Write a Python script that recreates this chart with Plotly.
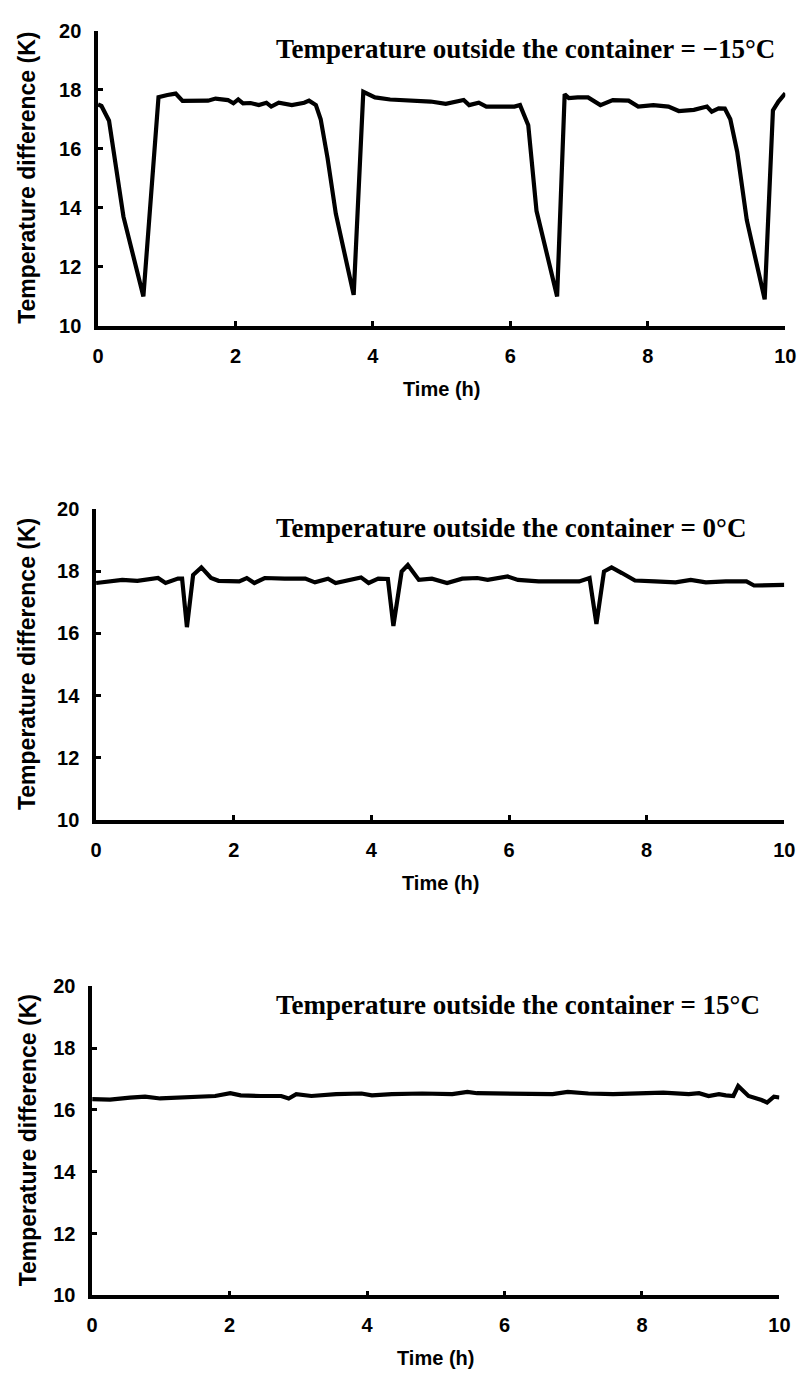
import plotly.graph_objects as go

# ---- data ----
t1 = [0.00, 0.05, 0.16, 0.27, 0.37, 0.66, 0.88, 1.01, 1.13, 1.23, 1.40, 1.60, 1.71, 1.89, 1.97, 2.04,
      2.11, 2.22, 2.34, 2.45, 2.52, 2.63, 2.82, 3.00, 3.07, 3.17, 3.24, 3.34, 3.46, 3.72, 3.86, 4.03,
      4.25, 4.55, 4.84, 5.06, 5.32, 5.40, 5.54, 5.65, 5.87, 6.06, 6.14, 6.26, 6.38, 6.68, 6.79, 6.85,
      6.98, 7.13, 7.31, 7.49, 7.72, 7.86, 8.08, 8.30, 8.45, 8.67, 8.86, 8.93, 9.03, 9.12, 9.20, 9.30,
      9.44, 9.70, 9.82, 9.90, 10.00]
dT1 = [17.50, 17.45, 16.95, 15.35, 13.70, 11.00, 17.75, 17.82, 17.87, 17.62, 17.63, 17.63, 17.70, 17.65,
       17.54, 17.67, 17.54, 17.55, 17.48, 17.56, 17.43, 17.56, 17.48, 17.56, 17.63, 17.48, 17.00, 15.68,
       13.80, 11.05, 17.93, 17.74, 17.67, 17.65, 17.60, 17.52, 17.65, 17.48, 17.56, 17.43, 17.42, 17.43,
       17.48, 16.80, 13.90, 11.00, 17.85, 17.72, 17.74, 17.74, 17.48, 17.65, 17.63, 17.43, 17.48, 17.43,
       17.28, 17.32, 17.43, 17.26, 17.37, 17.36, 17.00, 15.90, 13.58, 10.90, 17.30, 17.60, 17.88]

t2 = [0.00, 0.16, 0.38, 0.60, 0.90, 1.01, 1.19, 1.25, 1.32, 1.41, 1.53, 1.67, 1.78, 2.08, 2.19, 2.30,
      2.45, 2.74, 3.04, 3.18, 3.37, 3.48, 3.77, 3.85, 3.96, 4.10, 4.24, 4.32, 4.44, 4.53, 4.69, 4.88,
      5.10, 5.32, 5.54, 5.69, 5.98, 6.13, 6.43, 6.79, 7.02, 7.17, 7.27, 7.38, 7.49, 7.64, 7.83, 8.12,
      8.42, 8.64, 8.86, 9.15, 9.45, 9.56, 9.74, 10.00]
dT2 = [17.62, 17.67, 17.72, 17.69, 17.78, 17.62, 17.76, 17.76, 16.20, 17.88, 18.12, 17.78, 17.69, 17.67,
       17.78, 17.62, 17.78, 17.76, 17.76, 17.64, 17.76, 17.62, 17.78, 17.80, 17.62, 17.76, 17.75, 16.24,
       17.99, 18.20, 17.72, 17.76, 17.62, 17.76, 17.78, 17.72, 17.83, 17.72, 17.67, 17.65, 17.67, 17.78,
       16.30, 17.99, 18.12, 17.94, 17.70, 17.67, 17.64, 17.72, 17.64, 17.67, 17.67, 17.54, 17.54, 17.56]

t3 = [0.00, 0.26, 0.55, 0.77, 0.99, 1.21, 1.43, 1.65, 1.79, 2.01, 2.16, 2.45, 2.75, 2.86, 2.97, 3.19,
      3.55, 3.92, 4.07, 4.36, 4.80, 5.24, 5.46, 5.60, 5.90, 6.34, 6.70, 6.92, 7.22, 7.58, 8.02, 8.31,
      8.68, 8.83, 8.97, 9.12, 9.22, 9.33, 9.40, 9.55, 9.74, 9.82, 9.92, 10.00]
dT3 = [16.35, 16.33, 16.40, 16.43, 16.37, 16.40, 16.40, 16.43, 16.45, 16.54, 16.47, 16.45, 16.45, 16.37,
       16.51, 16.45, 16.51, 16.53, 16.47, 16.51, 16.53, 16.51, 16.58, 16.54, 16.54, 16.54, 16.51, 16.58,
       16.53, 16.51, 16.53, 16.56, 16.51, 16.54, 16.45, 16.51, 16.47, 16.45, 16.77, 16.45, 16.32, 16.24,
       16.43, 16.40]

panel_titles = ["Temperature outside the container = \u221215\u00b0C",
                "Temperature outside the container = 0\u00b0C",
                "Temperature outside the container = 15\u00b0C"]
x_ticks = [0, 2, 4, 6, 8, 10]
y_ticks = [10, 12, 14, 16, 18, 20]
x_title = "Time (h)"
y_title = "Temperature difference (K)"

# ---- layout geometry (pixels) ----
W, H = 810, 1388
panels = [  # left, right, top, bottom (px)
    (94, 796, 20, 320),
    (92, 795, 506, 822),
    (88, 790, 991, 1305),
]

def px_x(p):
    return p / W

def px_y(p):
    return 1 - p / H

fig = go.Figure()
series = [(t1, dT1), (t2, dT2), (t3, dT3)]
tickfont = dict(family="Liberation Sans, Arial, sans-serif", size=20, color="black", weight="bold")
annotations = []
for i, ((tx, ty), (l, r, t, b)) in enumerate(zip(series, panels)):
    n = "" if i == 0 else str(i + 1)
    fig.add_trace(go.Scatter(x=tx, y=ty, mode="lines", xaxis="x" + n, yaxis="y" + n,
                             line=dict(color="black", width=4.2), showlegend=False,
                             hoverinfo="skip"))
    common = dict(showline=True, linewidth=3.5, linecolor="black", ticks="inside",
                  ticklen=5, tickwidth=3, tickcolor="black", showgrid=False,
                  zeroline=False, tickfont=tickfont, mirror=False)
    fig.layout["xaxis" + n] = dict(domain=[px_x(l), px_x(r)], range=[0, 10], tickvals=x_ticks,
                                   anchor="y" + n, ticklabelstandoff=9, **common)
    fig.layout["yaxis" + n] = dict(domain=[px_y(b), px_y(t)], range=[10, 20], tickvals=y_ticks,
                                   anchor="x" + n, ticklabelstandoff=9, **common)
    annotations.append(dict(text=panel_titles[i], xref="paper", yref="paper",
                            x=px_x(274), y=px_y(t + 19), xanchor="left", yanchor="middle",
                            showarrow=False,
                            font=dict(family="Liberation Serif, Times New Roman, serif", size=27,
                                      color="black", weight="bold")))
    annotations.append(dict(text=x_title, xref="paper", yref="paper",
                            x=px_x((l + r) / 2), y=px_y(b + 64), xanchor="center", yanchor="middle",
                            showarrow=False,
                            font=dict(family="Liberation Sans, Arial, sans-serif", size=20,
                                      color="black", weight="bold")))
    annotations.append(dict(text=y_title, xref="paper", yref="paper", textangle=-90,
                            x=px_x(22), y=px_y((t + b) / 2), xanchor="center", yanchor="middle",
                            showarrow=False,
                            font=dict(family="Liberation Sans, Arial, sans-serif", size=23,
                                      color="black", weight="bold")))

fig.update_layout(width=W, height=H, margin=dict(l=0, r=0, t=0, b=0),
                  paper_bgcolor="white", plot_bgcolor="white", annotations=annotations)

fig.write_html("out.html")
